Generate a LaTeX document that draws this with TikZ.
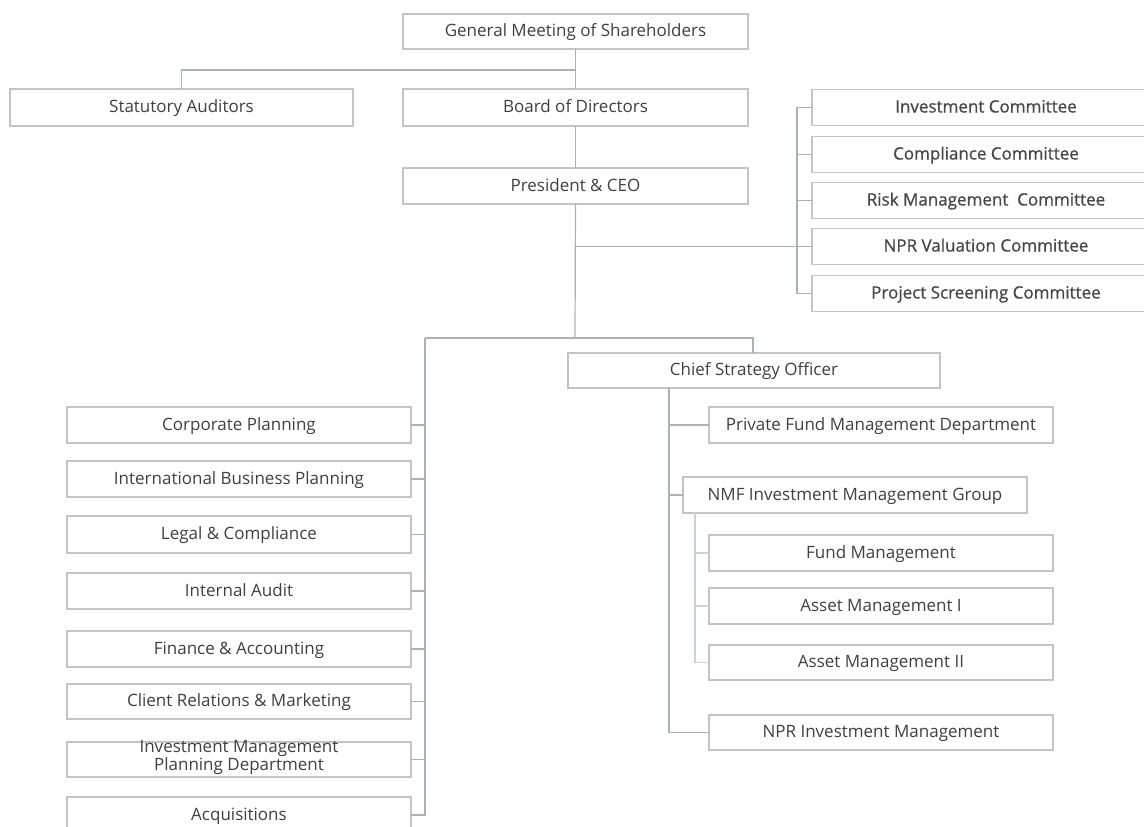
\documentclass[tikz,border=0pt]{standalone}
\usepackage{fontspec}
\setmainfont{Open Sans}
\newfontfamily\semib{Open Sans}[FakeBold=0.8]
\definecolor{txt}{HTML}{404040}
\definecolor{boxline}{HTML}{C4C4C4}
\definecolor{conn}{HTML}{A9B2BB}
\definecolor{connlight}{HTML}{C8D3DD}
\begin{document}
\begin{tikzpicture}[x=1pt,y=-1pt,
  unit/.style={draw=boxline, line width=1.3pt, fill=white, inner sep=0pt, outer sep=0pt,
     text=txt, font=\fontsize{17}{18}\selectfont, align=center, text height=12pt, text depth=2pt},
  cmte/.style={unit, minimum width=348pt, minimum height=36pt, text=black!72, font=\fontsize{17}{18}\selectfont\semib},
  link/.style={draw=conn, line width=1.2pt},
  sublink/.style={draw=connlight, line width=1.2pt}]
\useasboundingbox (0,0) rectangle (1144,827);
\clip (0,0) rectangle (1144,827);
\fill[white] (0,0) rectangle (1144,827);
% top
\node[unit, minimum width=345pt, minimum height=35pt] (gm) at (575.5,31.5) {General Meeting of Shareholders};
\node[unit, minimum width=343pt, minimum height=37pt] (sa) at (181.5,107.5) {Statutory Auditors};
\node[unit, minimum width=345pt, minimum height=37pt] (bod) at (575.5,107.5) {Board of Directors};
\node[unit, minimum width=345pt, minimum height=36pt] (ceo) at (575.5,186) {President \& CEO};
% committees
\node[cmte] (ic) at (986,107.5) {Investment Committee};
\node[cmte] (cc) at (986,154.5) {Compliance Committee};
\node[cmte] (rm) at (986,200.5) {Risk Management\ \ Committee};
\node[cmte] (nv) at (986,246.5) {NPR Valuation Committee};
\node[cmte] (ps) at (986,293.5) {Project Screening Committee};
% CSO side
\node[unit, minimum width=372pt, minimum height=35pt] (cso) at (754,370.5) {Chief Strategy Officer};
\node[unit, minimum width=344pt, minimum height=36pt] (pf) at (881,425) {Private Fund Management Department};
\node[unit, minimum width=344pt, minimum height=36pt] (nmf) at (855,495) {NMF Investment Management Group};
\node[unit, minimum width=344pt, minimum height=36pt] (fm) at (881,553) {Fund Management};
\node[unit, minimum width=344pt, minimum height=36pt] (am1) at (881,606) {Asset Management I};
\node[unit, minimum width=344pt, minimum height=35pt] (am2) at (881,662.5) {Asset Management II};
\node[unit, minimum width=344pt, minimum height=35pt] (npr) at (881,732.5) {NPR Investment Management};
% left column
\node[unit, minimum width=344pt, minimum height=36pt] (cp) at (239,425) {Corporate Planning};
\node[unit, minimum width=344pt, minimum height=36pt] (ibp) at (239,479) {International Business Planning};
\node[unit, minimum width=344pt, minimum height=37pt] (lc) at (239,534.5) {Legal \& Compliance};
\node[unit, minimum width=344pt, minimum height=36pt] (ia) at (239,591) {Internal Audit};
\node[unit, minimum width=344pt, minimum height=36pt] (fa) at (239,649) {Finance \& Accounting};
\node[unit, minimum width=344pt, minimum height=35pt] (cr) at (239,701.5) {Client Relations \& Marketing};
\node[unit, minimum width=344pt, minimum height=35pt] (imp) at (239,759.5) {};
\node[text=txt, font=\fontsize{17}{14.5}\selectfont, align=center, inner sep=0pt] (impt) at (239,757.5) {Investment Management\\Planning Department};
\node[unit, minimum width=344pt, minimum height=36pt] (acq) at (239,815) {Acquisitions};
% connectors: top
\coordinate (j1) at (575,70);
\draw[link] (gm.south) -- (bod.north);
\draw[link] (sa.north) |- (j1);
\draw[link] (bod.south) -- (ceo.north);
% committees bracket
\coordinate (cb) at (797,107.5);
\draw[link] (ic.west) -- (cb) |- (ps.west);
\draw[link] (cc.west) -- (cc.west -| cb);
\draw[link] (rm.west) -- (rm.west -| cb);
\draw[link] (nv.west) -- (nv.west -| ceo.south);
% trunk down
\coordinate (tb) at (575,338);
\coordinate (lt) at (425,338);
\coordinate (rt) at (753,338);
\draw[link] (ceo.south) -- (tb);
\draw[link] (lt) -- (rt) -- (rt |- cso.north);
\draw[link] (lt) |- (acq.east);
\foreach \n in {cp,ibp,lc,ia,fa,cr,imp}{
  \draw[link] (\n.east) -- (\n.east -| lt);
}
% CSO branch
\coordinate (cs) at (669,388);
\draw[link] (cs) |- (npr.west);
\draw[link] (pf.west) -- (pf.west -| cs);
\draw[link] (nmf.west) -- (nmf.west -| cs);
% NMF sub branch
\coordinate (ns) at (695,513);
\draw[sublink] (ns) |- (am2.west);
\draw[sublink] (fm.west) -- (fm.west -| ns);
\draw[sublink] (am1.west) -- (am1.west -| ns);
\end{tikzpicture}
\end{document}
